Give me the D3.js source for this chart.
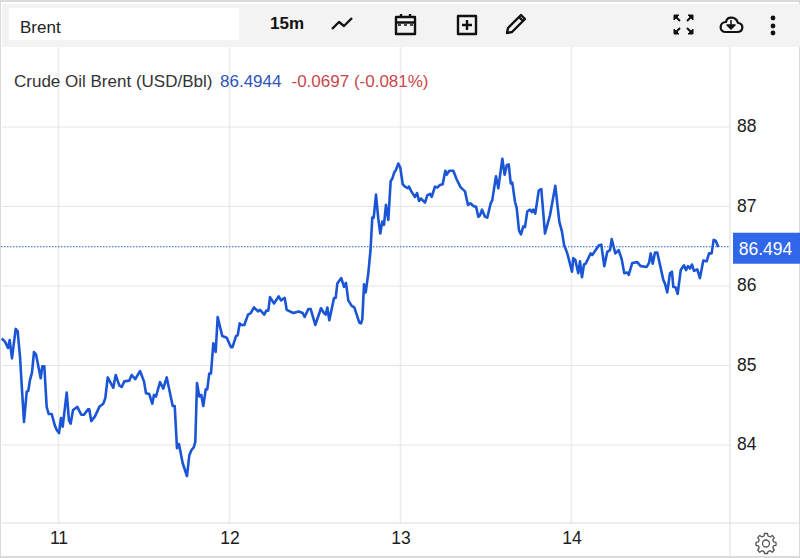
<!DOCTYPE html>
<html>
<head>
<meta charset="utf-8">
<script src="https://cdn.jsdelivr.net/npm/d3@7"></script>
<style>
	html, body { margin: 0; padding: 0; background: #fff; }
	svg { display: block; font-family: "Liberation Sans", Arial, sans-serif; }
	.axis path, .axis line { display: none; }
	.axis text { font-size: 17.5px; fill: #1c1c1c; font-family: "Liberation Sans", Arial, sans-serif; }
</style>
</head>
<body>
<div id="chart"></div>
<script>
// hours since the start of the 11th, one entry per price below
var hours = [-7.97,-7.51,-7.09,-6.85,-6.53,-6.01,-5.73,-5.40,-5.12,-4.84,-4.46,-4.24,-4.00,-3.72,-3.44,-3.16,-2.50,-2.27,-1.99,-1.66,-1.38,-0.95,-0.53,-0.25,0.07,0.35,0.59,1.15,1.47,1.71,2.04,2.36,2.64,3.20,3.58,4.14,4.32,4.60,5.12,5.73,6.29,6.57,6.91,7.69,8.03,8.53,8.87,9.24,9.94,10.27,10.78,11.44,12.00,12.28,12.74,13.16,13.40,13.68,14.25,14.71,15.19,16.03,16.31,16.63,16.91,17.43,18.03,18.36,18.69,18.98,19.20,19.44,19.76,20.04,20.32,20.66,20.88,21.16,21.40,21.73,22.06,22.34,22.99,23.61,24.21,24.42,24.91,25.15,25.43,25.66,26.08,26.60,26.98,27.44,28.00,28.28,28.88,29.16,29.45,29.68,30.25,30.90,31.23,31.75,32.03,32.95,33.71,34.27,34.55,35.06,35.40,36.04,36.84,37.26,37.50,37.73,38.01,38.67,38.91,39.13,39.69,40.07,40.35,40.67,41.15,41.52,42.22,42.46,42.64,42.88,43.12,43.48,43.79,44.04,44.24,44.56,44.88,45.16,45.44,45.68,45.96,46.29,46.62,46.85,47.13,47.37,47.69,47.97,48.31,48.63,49.01,49.19,49.52,50.03,50.32,50.60,50.88,51.44,51.76,52.14,52.38,52.84,53.17,53.54,53.92,54.29,54.48,54.85,55.41,55.89,56.45,57.05,57.47,57.80,58.32,58.60,58.92,59.16,59.44,59.86,60.18,60.66,60.88,61.40,61.73,62.29,62.62,62.91,63.19,63.47,63.69,64.07,64.31,64.63,64.91,65.24,65.47,65.80,66.17,66.45,66.64,66.92,67.40,67.76,68.28,68.98,69.73,70.29,70.67,70.95,71.41,72.07,72.25,72.53,72.95,73.19,73.47,73.75,73.99,74.69,74.92,75.82,76.18,76.60,77.02,77.40,77.64,78.15,78.62,79.04,79.41,79.83,80.03,80.53,81.23,81.71,82.55,82.88,83.12,83.40,83.72,84.04,84.88,85.12,85.44,85.82,86.10,86.29,86.62,86.90,87.33,87.79,88.07,88.35,88.63,88.91,89.19,89.65,90.03,90.50,90.97,91.30,91.67,91.95,92.24,92.60];
var prices = [85.34,85.30,85.22,85.32,85.09,85.46,85.43,85.11,84.69,84.29,84.67,84.68,84.82,84.91,85.17,85.14,84.84,84.99,84.99,84.48,84.39,84.39,84.25,84.19,84.15,84.34,84.23,84.66,84.31,84.27,84.44,84.46,84.48,84.38,84.38,84.45,84.45,84.30,84.36,84.48,84.52,84.59,84.85,84.72,84.88,84.75,84.73,84.80,84.81,84.88,84.83,84.93,84.80,84.65,84.64,84.52,84.63,84.61,84.79,84.71,84.85,84.49,84.49,83.96,84.01,83.77,83.61,83.87,83.94,83.97,84.04,84.78,84.61,84.63,84.49,84.70,84.70,84.90,84.90,85.28,85.17,85.61,85.37,85.35,85.23,85.23,85.37,85.38,85.53,85.51,85.51,85.64,85.66,85.73,85.68,85.70,85.64,85.69,85.69,85.86,85.78,85.87,85.82,85.85,85.70,85.66,85.68,85.66,85.61,85.71,85.71,85.51,85.72,85.66,85.64,85.73,85.57,85.85,85.85,86.03,86.10,85.99,86.04,85.82,85.75,85.73,85.54,85.53,85.58,86.02,85.92,86.16,86.45,86.86,86.86,87.15,86.85,86.66,86.81,86.77,87.02,86.83,87.32,87.35,87.43,87.46,87.54,87.49,87.28,87.25,87.23,87.25,87.19,87.12,87.17,87.07,87.10,87.05,87.14,87.16,87.12,87.25,87.24,87.27,87.28,87.45,87.40,87.45,87.45,87.34,87.24,87.19,87.02,87.04,87.00,87.00,86.87,86.89,86.96,86.87,86.86,87.04,87.08,87.38,87.23,87.60,87.40,87.52,87.53,87.29,87.30,87.06,86.98,86.70,86.65,86.75,86.74,86.94,86.96,86.93,86.96,86.91,87.20,87.22,86.66,86.89,87.26,86.81,86.68,86.52,86.41,86.18,86.35,86.33,86.16,86.31,86.11,86.27,86.28,86.41,86.39,86.51,86.52,86.25,86.43,86.45,86.59,86.41,86.45,86.34,86.16,86.17,86.14,86.29,86.30,86.25,86.24,86.29,86.41,86.28,86.42,86.42,86.08,86.03,85.92,86.16,86.18,85.99,85.98,85.90,86.20,86.26,86.20,86.25,86.22,86.27,86.19,86.21,86.10,86.32,86.31,86.41,86.41,86.58,86.57,86.49];
var dayTicks = [0, 24, 48, 72];
var dayLabels = ['11', '12', '13', '14'];
var priceTicks = [84, 85, 86, 87, 88];
var lastPrice = 86.494;

var svg = d3.select('#chart').append('svg')
	.attr('width', 800)
	.attr('height', 558);

var x = d3.scaleLinear().domain([0, 72]).range([58.5, 571.5]);
var y = d3.scaleLinear().domain([84, 88]).range([445, 127]);

var plotRight = 730,
	plotBottom = 523,
	plotTop = 47;

// grid
svg.append('g').selectAll('line').data(dayTicks).enter().append('line')
	.attr('x1', function(d) { return x(d); })
	.attr('x2', function(d) { return x(d); })
	.attr('y1', plotTop)
	.attr('y2', plotBottom)
	.attr('stroke', '#ececec')
	.attr('stroke-width', 1.5);
svg.append('g').selectAll('line').data(priceTicks).enter().append('line')
	.attr('x1', 2)
	.attr('x2', plotRight)
	.attr('y1', function(d) { return y(d); })
	.attr('y2', function(d) { return y(d); })
	.attr('stroke', '#e4e4e4')
	.attr('stroke-width', 1);

// frame
svg.append('rect').attr('x', 0).attr('y', 1).attr('width', 800).attr('height', 556)
	.attr('fill', 'none').attr('stroke', '#cfcfcf').attr('stroke-width', 1.5);
svg.append('line').attr('x1', plotRight).attr('x2', plotRight).attr('y1', plotTop).attr('y2', 557)
	.attr('stroke', '#dcdcdc');
svg.append('line').attr('x1', 2).attr('x2', 800).attr('y1', plotBottom).attr('y2', plotBottom)
	.attr('stroke', '#dcdcdc');

// last price line
svg.append('line')
	.attr('x1', 1)
	.attr('x2', plotRight)
	.attr('y1', y(lastPrice))
	.attr('y2', y(lastPrice))
	.attr('stroke', '#2a5fc9')
	.attr('stroke-width', 1)
	.attr('stroke-dasharray', '1.5 1.5');

// price line
var line = d3.line()
	.x(function(d, i) { return x(hours[i]); })
	.y(function(d) { return y(d); });
svg.append('path')
	.datum(prices)
	.attr('d', line)
	.attr('fill', 'none')
	.attr('stroke', '#1a55d6')
	.attr('stroke-width', 2.6)
	.attr('stroke-linejoin', 'round');

// axes
var yAxis = d3.axisRight(y).tickValues(priceTicks).tickFormat(d3.format('d')).tickSize(0).tickPadding(7);
svg.append('g').attr('class', 'axis').attr('transform', 'translate(' + plotRight + ',-1)').call(yAxis);
var xAxis = d3.axisBottom(x).tickValues(dayTicks)
	.tickFormat(function(d, i) { return dayLabels[i]; })
	.tickSize(0).tickPadding(9);
svg.append('g').attr('class', 'axis').attr('transform', 'translate(0,' + plotBottom + ')').call(xAxis);

// last price tag
svg.append('rect').attr('x', 733).attr('y', y(lastPrice) - 14).attr('width', 67).attr('height', 31).attr('fill', '#2f66ea');
svg.append('text')
	.attr('x', 765.5)
	.attr('y', y(lastPrice) + 2)
	.attr('dy', '0.35em')
	.attr('text-anchor', 'middle')
	.attr('font-size', 17.5)
	.attr('fill', '#fff')
	.text(lastPrice.toFixed(3));

// toolbar
svg.append('rect').attr('x', 2).attr('y', 4).attr('width', 798).attr('height', 43).attr('fill', '#f3f3f3');
svg.append('rect').attr('x', 9).attr('y', 8).attr('width', 230).attr('height', 32).attr('fill', '#fff');
svg.append('text').attr('x', 20).attr('y', 33).attr('font-size', 17).attr('fill', '#222').text('Brent');
svg.append('text').attr('x', 270).attr('y', 29).attr('font-size', 17).attr('font-weight', 'bold').attr('fill', '#111').text('15m');

function icon(tx, ty, d, opts) {
	opts = opts || {};
	return svg.append('path')
		.attr('transform', 'translate(' + tx + ',' + ty + ')')
		.attr('d', d)
		.attr('fill', opts.fill || 'none')
		.attr('stroke', opts.stroke || '#111')
		.attr('stroke-width', opts.width === undefined ? 2.4 : opts.width)
		.attr('stroke-linejoin', 'round');
}
// line chart
icon(332, 17, 'M0 12L7 5L12 9L20 1');
// calendar
icon(395, 14, 'M1 3H20V20H1ZM1 8.5H20M6 0V4M15 0V4');
icon(398, 25, 'M0 0H3M6 0H9M12 0H15', {width: 1.6});
// add
icon(457, 15, 'M1 1H19V19H1ZM10 5V15M5 10H15');
// pencil
icon(506, 13, 'M1 20L2 15L15 2L19 6L6 19ZM13 4L17 8');
// fullscreen
icon(673, 14, 'M1 1H6L1 6ZM20 1H15L20 6ZM1 20H6L1 15ZM20 20H15L20 15Z', {fill: '#111', width: 1});
icon(673, 14, 'M2 2L7 7M19 2L14 7M2 19L7 14M19 19L14 14', {width: 2});
// cloud download
icon(719, 16, 'M6 16H18C25 16 25 7 19 7C17 0 8 0 7 6C0 6 0 16 6 16Z', {width: 2.2});
icon(725, 20, 'M6 0V5M2 5H10L6 9Z', {fill: '#111', width: 1.5});
// dots
svg.append('g').selectAll('circle').data([18, 26, 33]).enter().append('circle')
	.attr('cx', 773)
	.attr('cy', function(d) { return d; })
	.attr('r', 2.4)
	.attr('fill', '#111');

// gear
icon(757, 533, 'M7.5 0.5H10.5L11 3L13.2 3.9L15.2 2.4L17.3 4.6L15.8 6.7L16.6 8.8L19 9.3V12.3L16.6 12.8L15.8 14.9L17.3 17L15.2 19.2L13.2 17.7L11 18.6L10.5 20.5H7.5L7 18.6L4.8 17.7L2.8 19.2L0.7 17L2.2 14.9L1.4 12.8L-1 12.3V9.3L1.4 8.8L2.2 6.7L0.7 4.6L2.8 2.4L4.8 3.9L7 3Z', {stroke: '#555', width: 1.3});
svg.append('circle').attr('cx', 766).attr('cy', 543.5).attr('r', 3.5).attr('fill', 'none').attr('stroke', '#555').attr('stroke-width', 1.3);

// legend
svg.append('text').attr('x', 14).attr('y', 87).attr('font-size', 17).attr('fill', '#333').text('Crude Oil Brent (USD/Bbl)');
svg.append('text').attr('x', 220).attr('y', 87).attr('font-size', 17).attr('fill', '#2f55b8').text('86.4944');
svg.append('text').attr('x', 291.5).attr('y', 87).attr('font-size', 17).attr('fill', '#c9474c').text('-0.0697 (-0.081%)');
</script>
</body>
</html>
